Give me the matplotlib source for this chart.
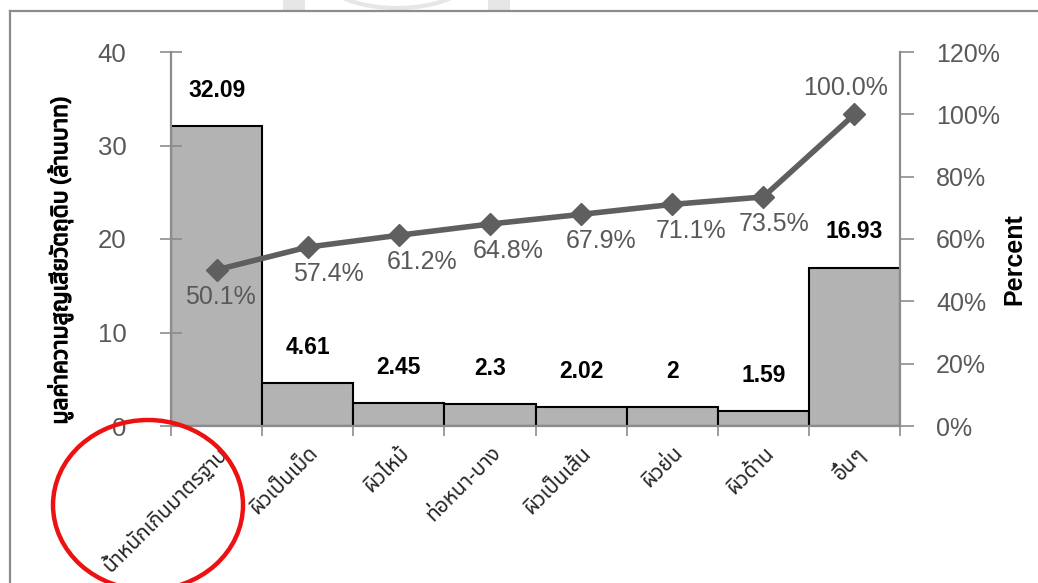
import matplotlib
matplotlib.use("Agg")
import matplotlib.pyplot as plt
import matplotlib.patheffects as pe
import numpy as np
from matplotlib.patches import Ellipse, Rectangle
from matplotlib.lines import Line2D

categories = [
    "น้ำหนักเกินมาตรฐาน",
    "ผิวเป็นเม็ด",
    "ผิวไหม้",
    "ท่อหนา-บาง",
    "ผิวเป็นเส้น",
    "ผิวย่น",
    "ผิวด้าน",
    "อื่นๆ",
]
loss_values = [32.09, 4.61, 2.45, 2.3, 2.02, 2, 1.59, 16.93]
cum_percent = [50.1, 57.4, 61.2, 64.8, 67.9, 71.1, 73.5, 100.0]
value_labels = ["32.09", "4.61", "2.45", "2.3", "2.02", "2", "1.59", "16.93"]
left_ticks = [0, 10, 20, 30, 40]
right_ticks = [0, 20, 40, 60, 80, 100, 120]

# horizontal nudges (pixels) of the percent labels, as placed in the original
pct_label_dx = [4, 21, 23, 18, 20, 19, 11, -9]

thai_font = ["Noto Sans Thai", "DejaVu Sans"]
num_font = ["Liberation Sans", "DejaVu Sans"]
spine_grey = "#8c8c8c"
text_grey = "#595959"
faux_bold = [pe.withStroke(linewidth=0.9, foreground="black")]

plt.rcParams["font.family"] = num_font

fig = plt.figure(figsize=(10.38, 5.83), dpi=100)
W, H = 1038, 583
# axes box in pixels: left 171, right 900, bottom 426, top 52
ax = fig.add_axes([171 / W, 1 - 426 / H, (900 - 171) / W, (426 - 52) / H])
ax2 = ax.twinx()

x = np.arange(len(categories))
ax.bar(
    x,
    loss_values,
    width=1.0,
    color="#b3b3b3",
    edgecolor="black",
    linewidth=1.5,
    zorder=1,
)
ax.set_xlim(-0.5, len(categories) - 0.5)
ax.set_ylim(0, 40)
ax.set_yticks(left_ticks)
ax.set_yticklabels([str(t) for t in left_ticks], fontsize=18.5, color=text_grey)
ax.tick_params(axis="y", direction="inout", length=16, width=1.2,
               color=spine_grey, pad=24)
ax.tick_params(axis="x", direction="out", length=7, width=1.2, color=spine_grey)

# category ticks at bar edges, labels at bar centres
ax.set_xticks(np.arange(len(categories) + 1) - 0.5)
ax.set_xticklabels([])
ax.set_xticks(x, minor=True)
ax.set_xticklabels(categories, minor=True, rotation=45, ha="right", va="top",
                   rotation_mode="anchor", fontsize=15, family=thai_font,
                   color="#262626")
ax.tick_params(axis="x", which="minor", length=0, pad=12)

ax.spines["top"].set_visible(False)
ax2.spines["top"].set_visible(False)
for sp in [ax.spines["left"], ax.spines["bottom"], ax2.spines["right"]]:
    sp.set_color(spine_grey)
    sp.set_linewidth(1.6)
ax2.spines["left"].set_visible(False)
ax2.spines["bottom"].set_visible(False)
ax.spines["right"].set_visible(False)

for xi, v, lab in zip(x, loss_values, value_labels):
    ax.text(xi, v + 2.6, lab, ha="center", va="bottom", fontsize=16.5,
            fontweight="bold", color="black")

ax.set_ylabel("มูลค่าความสูญเสียวัตถุดิบ (ล้านบาท)", family=thai_font,
              fontsize=16.5, path_effects=faux_bold)
ax.yaxis.set_label_coords(-0.134, 0.441)

# cumulative percent line
ax2.plot(x, cum_percent, color="#5f5f5f", linewidth=4, marker="D",
         markersize=11, zorder=3)
ax2.set_ylim(0, 120)
ax2.set_yticks(right_ticks)
ax2.set_yticklabels([f"{t}%" for t in right_ticks], fontsize=18, color=text_grey)
ax2.tick_params(axis="y", direction="out", length=10, width=1.2,
                color=spine_grey, pad=16)
ax2.set_ylabel("Percent", fontsize=18, fontweight="bold")
ax2.yaxis.set_label_coords(1.140, 0.447)

for xi, p, dx in zip(x, cum_percent, pct_label_dx):
    dy = 26 if p >= 100 else -27
    ax2.annotate(f"{p:.1f}%", (xi, p), xytext=(dx, dy),
                 textcoords="offset pixels", ha="center", va="center",
                 fontsize=18, color=text_grey)

# frame lines of the screenshot
fig.add_artist(Line2D([10 / W, 10 / W], [0, 1 - 11 / H], transform=fig.transFigure,
                      color=spine_grey, linewidth=1.6))
fig.add_artist(Line2D([10 / W, 1], [1 - 11 / H, 1 - 11 / H], transform=fig.transFigure,
                      color=spine_grey, linewidth=1.6))

# faint watermark remains peeking in at the top edge
wm = "#e6e6e6"
fig.add_artist(Rectangle((283 / W, 1 - 10 / H), 22 / W, 10 / H,
                         transform=fig.transFigure, color=wm, lw=0))
fig.add_artist(Rectangle((488 / W, 1 - 10 / H), 22 / W, 10 / H,
                         transform=fig.transFigure, color=wm, lw=0))
fig.add_artist(Ellipse((397 / W, 1 + 20 / H), 140 / W, 56 / H,
                       transform=fig.transFigure, fill=False, edgecolor=wm,
                       lw=3, clip_on=True))

# red ellipse highlighting the first category
ell = Ellipse((148 / W, 1 - 505 / H), 190 / W, 170 / H, transform=fig.transFigure,
              fill=False, edgecolor="#ee1111", linewidth=3.2, clip_on=False)
fig.add_artist(ell)

fig.savefig("out.png", dpi=100)
